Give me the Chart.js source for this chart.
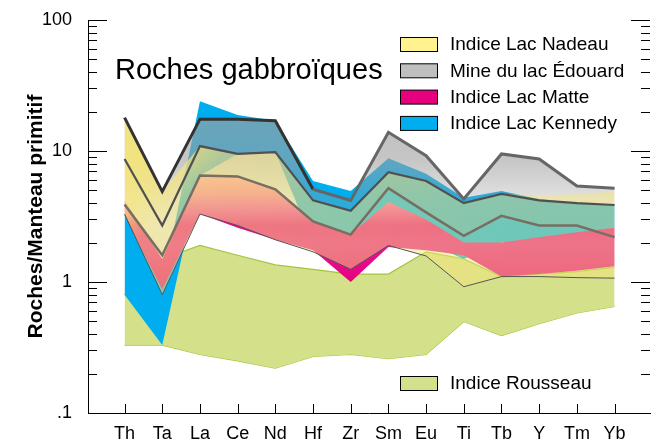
<!DOCTYPE html>
<html>
<head>
<meta charset="utf-8">
<script src="https://cdn.jsdelivr.net/npm/chart.js@4.4.0/dist/chart.umd.min.js"></script>
<style>
  html, body { margin: 0; padding: 0; background: #fff; }
</style>
</head>
<body>
<canvas id="myChart" width="651" height="441"></canvas>
<script>
const elements = ['Th', 'Ta', 'La', 'Ce', 'Nd', 'Hf', 'Zr', 'Sm', 'Eu', 'Ti', 'Tb', 'Y', 'Tm', 'Yb'];
const yTickValues = [0.1, 1, 10, 100];
const yTickLabels = ['.1', '1', '10', '100'];

// Indice Lac Nadeau
const nadeauUpper = [18, 4.9, 10.9, 9.5, 9.8, 4.2, 3.5, 6.9, 5.9, 4.0, 4.7, 4.6, 4.7, 4.9];
const nadeauLower = [3.3, 0.8, 3.3, 2.7, 2.1, 1.7, 1.25, 1.9, 1.58, 0.92, 1.1, 1.1, 1.08, 1.07];
// Mine du lac Édouard
const edouardUpper = [18, 4.9, 17.5, 17.5, 17, 5.1, 4.2, 13.9, 9.2, 4.3, 9.5, 8.7, 5.4, 5.2];
const edouardMedian = [8.7, 2.7, 10.9, 9.5, 9.8, 4.2, 3.5, 6.9, 5.9, 4.0, 4.7, 4.2, 4.0, 3.87];
const edouardLower = [3.9, 1.6, 6.5, 6.4, 5.1, 2.9, 2.3, 5.2, 3.4, 2.25, 3.2, 2.7, 2.7, 2.2];
// Indice Lac Matte
const matteUpper = [4.2, 1.5, 6.5, 6.4, 5.1, 2.9, 2.3, 4.1, 3.0, 2.0, 2.0, 2.2, 2.4, 2.6];
const matteLower = [3.2, 0.88, 3.3, 2.6, 2.1, 1.75, 1.0, 1.85, 1.75, 1.6, 1.1, 1.15, 1.22, 1.32];
// Indice Lac Kennedy
const kennedyUpper = [3.3, 0.95, 24, 18.8, 17, 5.9, 4.95, 8.8, 6.7, 4.4, 4.95, 4.3, 4.0, 3.9];
const kennedyLower = [0.8, 0.33, 6.5, 9.5, 9.8, 2.0, 1.5, 2.5, 2.0, 1.5, 2.0, 2.1, 2.3, 2.6];
// Indice Rousseau
const rousseauUpper = [0.8, 1.5, 1.9, 1.6, 1.35, 1.25, 1.15, 1.15, 1.7, 1.5, 1.1, 1.15, 1.2, 1.3];
const rousseauLower = [0.33, 0.33, 0.28, 0.25, 0.22, 0.27, 0.28, 0.26, 0.28, 0.5, 0.39, 0.48, 0.58, 0.65];

const legendLabels = ['Indice Lac Nadeau', 'Mine du lac Édouard', 'Indice Lac Matte', 'Indice Lac Kennedy'];
const legendColors = ['#fff28f', '#bfbfbf', '#e6007e', '#00aeef'];

const toPoints = arr => arr.map((v, i) => ({ x: i, y: v }));

// yellow is dense in the upper left and gets thinner towards the lower right
function yellowFill(context) {
    const g = context.chart.ctx.createLinearGradient(130, 130, 380, 380);
    g.addColorStop(0, 'rgba(246,230,120,0.9)');
    g.addColorStop(0.08, 'rgba(246,230,120,0.9)');
    g.addColorStop(0.16, 'rgba(246,230,120,0.75)');
    g.addColorStop(0.24, 'rgba(246,230,120,0.52)');
    g.addColorStop(0.32, 'rgba(246,230,120,0.5)');
    g.addColorStop(1, 'rgba(246,230,120,0.45)');
    return g;
}

function grayFill(context) {
    const g = context.chart.ctx.createLinearGradient(0, 100, 0, 220);
    g.addColorStop(0, 'rgba(160,160,160,0.7)');
    g.addColorStop(0.5, 'rgba(160,160,160,0.6)');
    g.addColorStop(0.83, 'rgba(160,160,160,0.3)');
    g.addColorStop(1, 'rgba(160,160,160,0.25)');
    return g;
}

function matteFill(context) {
    const g = context.chart.ctx.createLinearGradient(0, 170, 0, 280);
    g.addColorStop(0, 'rgb(248,175,160)');
    g.addColorStop(0.23, 'rgb(244,120,165)');
    g.addColorStop(0.38, 'rgb(236,60,170)');
    g.addColorStop(0.5, 'rgb(230,10,140)');
    g.addColorStop(0.68, 'rgb(232,20,150)');
    g.addColorStop(1, 'rgb(230,0,126)');
    return g;
}

function band(upper, lower, targetIndex, fill, order, border) {
    return [
        {
            data: toPoints(upper),
            fill: { target: targetIndex },
            backgroundColor: fill,
            borderColor: border || 'rgba(0,0,0,0)',
            borderWidth: border ? 1.2 : 0,
            order: order,
        },
        {
            data: toPoints(lower),
            fill: false,
            borderColor: border || 'rgba(0,0,0,0)',
            borderWidth: border ? 1.2 : 0,
            order: order,
        },
    ];
}

const datasets = [
    ...band(rousseauUpper, rousseauLower, 1, '#d5e08b', 50, '#a3c63f'),
    ...band(kennedyUpper, kennedyLower, 3, '#00aeef', 40),
    ...band(edouardUpper, edouardLower, 5, grayFill, 30),
    ...band(matteUpper, matteLower, 7, matteFill, 20),
    ...band(nadeauUpper, nadeauLower, 9, yellowFill, 10),
    {
        data: toPoints(nadeauLower),
        fill: false,
        borderColor: '#555',
        borderWidth: 1,
        order: 0,
    },
    {
        data: toPoints(edouardLower),
        fill: false,
        borderColor: '#786e62',
        borderWidth: 2.5,
        order: 0,
    },
    {
        data: toPoints(edouardMedian),
        fill: false,
        borderColor: '#505050',
        borderWidth: 2.2,
        order: 0,
    },
    {
        data: toPoints(edouardUpper),
        fill: false,
        borderColor: '#333',
        borderWidth: 3,
        segment: {
            borderColor: ctx => (ctx.p0DataIndex < 5 ? '#333' : '#666'),
        },
        order: 0,
    },
];

const decorations = {
    id: 'decorations',
    afterDraw(chart) {
        const { ctx, chartArea: a, scales: { x, y } } = chart;
        ctx.save();
        ctx.strokeStyle = '#000';
        ctx.lineWidth = 1;
        ctx.beginPath();
        for (let e = -1; e <= 2; e++) {
            for (let m = 1; m <= 9; m++) {
                const v = m * Math.pow(10, e);
                if (v > 100.001) break;
                const py = Math.round(y.getPixelForValue(v)) + 0.5;
                const len = m === 1 ? 19 : 9;
                ctx.moveTo(a.left, py);
                ctx.lineTo(a.left + len, py);
                ctx.moveTo(a.right, py);
                ctx.lineTo(a.right - len, py);
            }
        }
        elements.forEach((_, i) => {
            const px = Math.round(x.getPixelForValue(i)) + 0.5;
            ctx.moveTo(px, a.bottom);
            ctx.lineTo(px, a.bottom - 9);
        });
        ctx.stroke();

        ctx.fillStyle = '#000';
        ctx.textBaseline = 'alphabetic';
        ctx.font = '29px Arial, "Liberation Sans", sans-serif';
        ctx.fillText('Roches gabbroïques', 115, 79);

        ctx.font = '19px Arial, "Liberation Sans", sans-serif';
        ctx.textBaseline = 'middle';
        const drawItem = (label, color, top) => {
            ctx.fillStyle = color;
            ctx.fillRect(400.5, top + 0.5, 37, 14);
            ctx.strokeStyle = '#000';
            ctx.strokeRect(400.5, top + 0.5, 37, 14);
            ctx.fillStyle = '#000';
            ctx.fillText(label, 450, top + 8);
        };
        legendLabels.forEach((label, i) => drawItem(label, legendColors[i], 37 + i * 26.3));
        drawItem('Indice Rousseau', '#d5e08b', 376);
        ctx.restore();
    },
};

new Chart(document.getElementById('myChart').getContext('2d'), {
    type: 'line',
    data: { datasets: datasets },
    options: {
        responsive: false,
        animation: false,
        layout: { padding: { top: 20, right: 1, left: 0, bottom: 0 } },
        elements: { point: { radius: 0 }, line: { tension: 0 } },
        plugins: {
            legend: { display: false },
            tooltip: { enabled: false },
            filler: { propagate: false },
        },
        scales: {
            x: {
                type: 'linear',
                min: -0.97,
                max: 13.94,
                grid: { display: false, drawTicks: false },
                border: { display: true, color: '#000', width: 1 },
                afterBuildTicks: s => { s.ticks = elements.map((_, i) => ({ value: i })); },
                afterFit: s => {
                    s.height = 28;
                    s.paddingLeft = 0;
                    s.paddingRight = 0;
                },
                ticks: {
                    callback: v => elements[v],
                    color: '#000',
                    font: { family: 'Arial', size: 18 },
                    padding: 10,
                    autoSkip: false,
                    maxRotation: 0,
                },
            },
            y: {
                type: 'logarithmic',
                min: 0.1,
                max: 100,
                grid: { display: false, drawTicks: false },
                border: { display: true, color: '#000', width: 1 },
                afterBuildTicks: s => { s.ticks = yTickValues.map(v => ({ value: v })); },
                afterFit: s => {
                    s.width = 88;
                    s.paddingTop = 0;
                    s.paddingBottom = 0;
                },
                ticks: {
                    callback: (v, i) => yTickLabels[i],
                    color: '#000',
                    font: { family: 'Arial', size: 18 },
                    padding: 16,
                },
                title: {
                    display: true,
                    text: 'Roches/Manteau primitif',
                    color: '#000',
                    font: { family: 'Arial', size: 21, weight: 'bold' },
                    padding: { top: 24, bottom: 0 },
                },
            },
        },
    },
    plugins: [decorations],
});
</script>
</body>
</html>
